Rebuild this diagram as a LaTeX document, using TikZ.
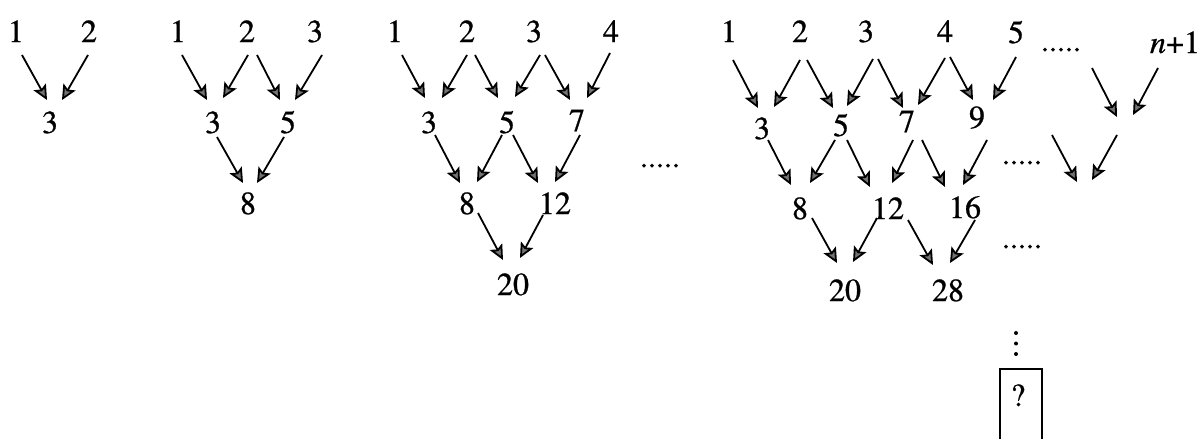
\documentclass[tikz,border=0pt]{standalone}
\usepackage{fontspec}
\setmainfont{TeX Gyre Termes}
\newfontfamily\numfont{TeX Gyre Termes}[FakeBold=0.8]
\usetikzlibrary{arrows.meta}
\tikzset{
  num/.style={font=\numfont\fontsize{32}{32}\selectfont, inner sep=0pt, text height=22pt, text depth=0pt, anchor=center},
  dotsnode/.style={font=\numfont\fontsize{32}{32}\selectfont, inner sep=0pt, anchor=base},
  arr/.style={line width=1.8pt, -{Stealth[length=15pt, width=14pt, inset=3pt, fill=black!55]}},
  boxline/.style={line width=1.8pt},
}
\newcommand\arw[4]{\draw[arr] ([shift={(#2)}]#1.center) -- ([shift={(#4)}]#3.center);}
\begin{document}
\begin{tikzpicture}[x=1pt,y=-1pt]
\useasboundingbox (0,0) rectangle (1198,439);
% ---------- group 1
\node[num] (A1) at (16,31) {1};
\node[num] (A2) at (89,31) {2};
\node[num] (A3) at (50,122) {3};
\arw{A1}{6,24}{A3}{-3,-22}
\arw{A2}{-1,24}{A3}{12,-22}
% ---------- group 2
\node[num] (B1) at (178,31) {1};
\node[num] (B2) at (247,31) {2};
\node[num] (B3) at (315,31) {3};
\node[num] (B4) at (213,122) {3};
\node[num] (B5) at (288,122) {5};
\node[num] (B6) at (248,203) {8};
\arw{B1}{4,24}{B4}{-6,-22}
\arw{B2}{1,24}{B4}{10,-24}
\arw{B2}{10,24}{B5}{-8,-22}
\arw{B3}{7,24}{B5}{7,-22}
\arw{B4}{4,15}{B6}{-5,-20}
\arw{B5}{-4,15}{B6}{9,-20}
% ---------- group 3
\node[num] (C1) at (395,31) {1};
\node[num] (C2) at (467,31) {2};
\node[num] (C3) at (534,31) {3};
\node[num] (C4) at (611,31) {4};
\node[num] (C5) at (429,122) {3};
\node[num] (C6) at (507,122) {5};
\node[num] (C7) at (577,120) {7};
\node[num] (C8) at (467,203) {8};
\node[num] (C9) at (555,203) {12};
\node[num] (C10) at (513,284) {20};
\node[dotsnode] (C11) at (660,167) {.....};
\arw{C1}{7,24}{C5}{-4,-24}
\arw{C2}{0,24}{C5}{13,-24}
\arw{C2}{8,24}{C6}{-9,-24}
\arw{C3}{6,24}{C6}{8,-25}
\arw{C3}{11,24}{C7}{-7,-20}
\arw{C4}{-1,22}{C7}{10,-22}
\arw{C5}{6,13}{C8}{-7,-20}
\arw{C6}{-5,13}{C8}{10,-21}
\arw{C6}{6,13}{C9}{-17,-20}
\arw{C7}{3,15}{C9}{0,-21}
\arw{C8}{11,10}{C10}{-10,-24}
\arw{C9}{-12,12}{C10}{7,-26}
% ---------- group 4
\node[num] (D1) at (729,31) {1};
\node[num] (D2) at (800,31) {2};
\node[num] (D3) at (866,31) {3};
\node[num] (D4) at (945,31) {4};
\node[num] (D5) at (1016,32) {5};
\node[dotsnode] (D6) at (1061,51) {.....};
\node[num] (D7) at (1175,42) {\textit{n}+1};
\node[num] (D8) at (762,128) {3};
\node[num] (D9) at (841,125) {5};
\node[num] (D10) at (907,121) {7};
\node[num] (D11) at (977,117) {9};
\node[num] (D12) at (800,208) {8};
\node[num] (D13) at (888,208) {12};
\node[num] (D14) at (965,207) {16};
\node[dotsnode] (D15) at (1022,164) {.....};
\node[num] (D16) at (845,290) {20};
\node[num] (D17) at (948,290) {28};
\node[dotsnode] (D18) at (1022,248) {.....};
\coordinate (R1s) at (1092,68);
\coordinate (R1e) at (1117,117);
\coordinate (R2e) at (1133,115);
\coordinate (R3s) at (1052,135);
\coordinate (R3e) at (1077,182);
\coordinate (R4s) at (1117,135);
\coordinate (R4e) at (1092,180);
\arw{D1}{4,29}{D8}{-4,-20}
\arw{D2}{0,29}{D8}{12,-21}
\arw{D2}{7,29}{D9}{-8,-17}
\arw{D3}{7,28}{D9}{6,-19}
\arw{D3}{12,28}{D10}{-4,-13}
\arw{D4}{0,27}{D10}{11,-16}
\arw{D4}{5,26}{D11}{-4,-17}
\arw{D5}{0,25}{D11}{16,-17}
\draw[arr] (R1s) -- (R1e);
\draw[arr] ([shift={(-17,26)}]D7.center) -- (R2e);
\arw{D8}{6,12}{D12}{-9,-23}
\arw{D9}{-6,15}{D12}{10,-25}
\arw{D9}{6,15}{D13}{-18,-21}
\arw{D10}{6,19}{D13}{4,-25}
\arw{D10}{15,19}{D14}{-20,-20}
\arw{D11}{10,23}{D14}{-2,-22}
\draw[arr] (R3s) -- (R3e);
\draw[arr] (R4s) -- (R4e);
\arw{D12}{12,10}{D16}{-8,-27}
\arw{D13}{-11,10}{D16}{8,-28}
\arw{D13}{20,12}{D17}{-15,-25}
\arw{D14}{10,13}{D17}{2,-27}
% ---------- vertical dots and question box
\fill (1016,333) circle (2pt);
\fill (1016,343.5) circle (2pt);
\fill (1016,354) circle (2pt);
\node[num] (Q) at (1018,395) {?};
\draw[boxline] ([shift={(-18,44)}]Q.center) -- ([shift={(-18,-26)}]Q.center) -- ([shift={(24,-26)}]Q.center) -- ([shift={(24,44)}]Q.center);
\end{tikzpicture}
\end{document}
